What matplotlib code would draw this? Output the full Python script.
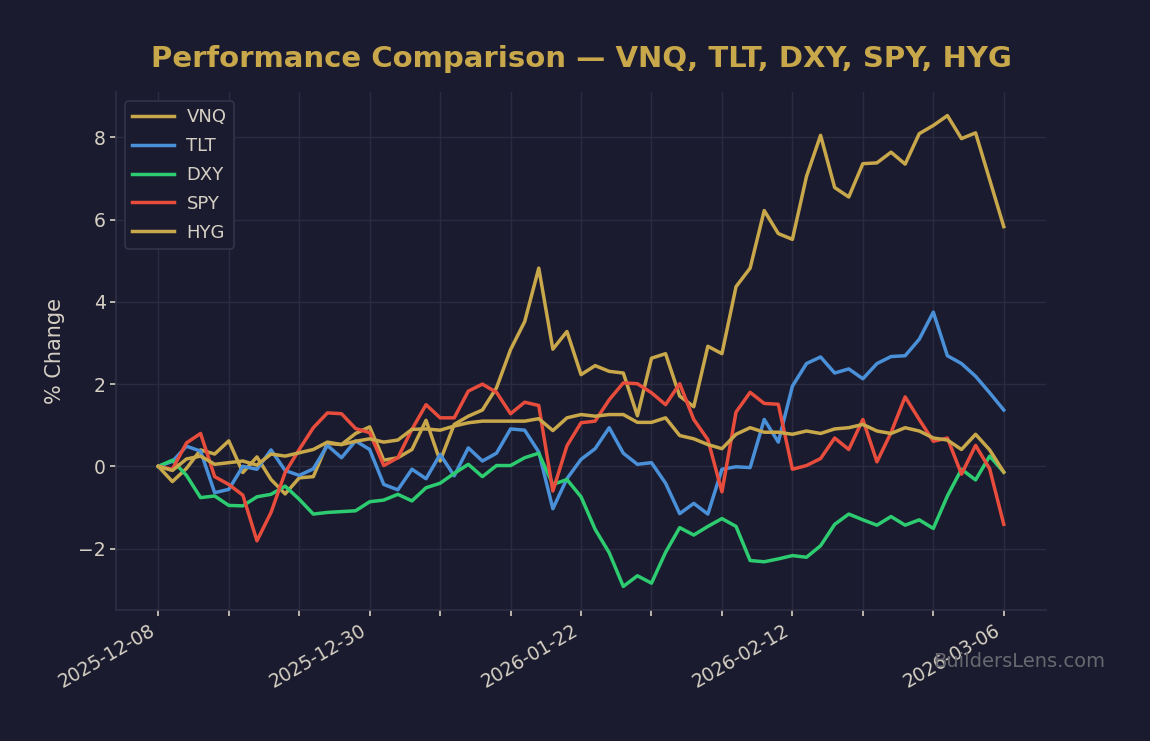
import numpy as np
import pandas as pd
import matplotlib
matplotlib.use("Agg")
import matplotlib.pyplot as plt

# ---- data ----
holidays = ["2025-12-25", "2026-01-01", "2026-01-19", "2026-02-16"]
dates = pd.bdate_range("2025-12-08", "2026-03-06", freq="C", holidays=holidays)

vnq = [0, -0.37, -0.05, 0.40, 0.30, 0.62, -0.15, 0.23, -0.32, -0.67,
       -0.28, -0.25, 0.56, 0.53, 0.80, 0.96, 0.15, 0.21, 0.41, 1.12,
       0.13, 1.02, 1.22, 1.37, 1.91, 2.84, 3.52, 4.82, 2.85, 3.28,
       2.23, 2.45, 2.31, 2.27, 1.23, 2.63, 2.74, 1.71, 1.45, 2.92,
       2.74, 4.37, 4.82, 6.22, 5.66, 5.52, 7.05, 8.05, 6.78, 6.55,
       7.36, 7.38, 7.64, 7.35, 8.09, 8.29, 8.53, 7.97, 8.11, 6.97, 5.83]
tlt = [0, 0.12, 0.49, 0.37, -0.64, -0.56, 0.0, -0.07, 0.40, -0.10,
       -0.22, -0.06, 0.51, 0.21, 0.62, 0.41, -0.44, -0.57, -0.07, -0.30,
       0.29, -0.23, 0.45, 0.13, 0.32, 0.91, 0.88, 0.35, -1.03, -0.30,
       0.17, 0.43, 0.94, 0.32, 0.05, 0.09, -0.41, -1.15, -0.90, -1.16,
       -0.07, -0.01, -0.03, 1.14, 0.59, 1.95, 2.50, 2.66, 2.27, 2.37,
       2.13, 2.50, 2.67, 2.69, 3.09, 3.75, 2.69, 2.50, 2.19, 1.79, 1.37]
dxy = [0, 0.15, -0.22, -0.76, -0.72, -0.95, -0.96, -0.74, -0.68, -0.48,
       -0.80, -1.16, -1.12, -1.10, -1.08, -0.86, -0.82, -0.68, -0.84, -0.52,
       -0.41, -0.17, 0.05, -0.25, 0.02, 0.02, 0.21, 0.32, -0.44, -0.32,
       -0.74, -1.53, -2.10, -2.92, -2.66, -2.84, -2.09, -1.49, -1.67, -1.46,
       -1.27, -1.46, -2.29, -2.32, -2.25, -2.17, -2.21, -1.93, -1.41, -1.16,
       -1.30, -1.43, -1.22, -1.43, -1.30, -1.51, -0.72, -0.07, -0.33, 0.25, -0.14]
spy = [0, -0.07, 0.57, 0.80, -0.25, -0.44, -0.70, -1.81, -1.12, -0.15,
       0.41, 0.94, 1.30, 1.28, 0.92, 0.82, 0.02, 0.21, 0.90, 1.50,
       1.18, 1.18, 1.83, 2.00, 1.80, 1.28, 1.56, 1.48, -0.60, 0.50,
       1.06, 1.10, 1.62, 2.03, 2.01, 1.79, 1.50, 2.01, 1.14, 0.65,
       -0.62, 1.32, 1.80, 1.53, 1.51, -0.07, 0.02, 0.19, 0.69, 0.41,
       1.14, 0.11, 0.82, 1.69, 1.14, 0.61, 0.69, -0.19, 0.51, -0.06, -1.41]
hyg = [0, -0.10, 0.18, 0.25, 0.05, 0.09, 0.13, 0.03, 0.30, 0.25,
       0.33, 0.41, 0.59, 0.53, 0.61, 0.67, 0.59, 0.64, 0.90, 0.91,
       0.88, 0.98, 1.06, 1.10, 1.10, 1.10, 1.10, 1.16, 0.87, 1.18,
       1.26, 1.22, 1.26, 1.26, 1.07, 1.07, 1.18, 0.75, 0.67, 0.53,
       0.43, 0.78, 0.94, 0.83, 0.83, 0.78, 0.86, 0.80, 0.91, 0.94,
       1.02, 0.86, 0.80, 0.94, 0.86, 0.69, 0.64, 0.41, 0.78, 0.40, -0.14]

series_names = ["VNQ", "TLT", "DXY", "SPY", "HYG"]
series_values = [vnq, tlt, dxy, spy, hyg]
series_colors = ["#c9a84c", "#4a90d9", "#2ecc71", "#e74c3c", "#c9a84c"]

# ---- style ----
BG = "#1a1b2e"
GRID = "#2a2b40"
TXT = "#d6d0c4"
GOLD = "#c9a84c"

fig = plt.figure(figsize=(11.5, 7.41), dpi=100, facecolor=BG)
ax = fig.add_axes([0.1009, 0.1768, 0.8087, 0.699])
ax.set_facecolor(BG)

x = np.arange(len(dates))
for name, vals, col in zip(series_names, series_values, series_colors):
    ax.plot(x, vals, color=col, lw=2.5, label=name)

tick_pos = x[::5]
tick_lab = [d.strftime("%Y-%m-%d") if i % 15 == 0 else "" for i, d in zip(tick_pos, dates[::5])]
ax.set_xticks(tick_pos)
ax.set_xticklabels(tick_lab, rotation=30, ha="right")
ax.set_yticks([-2, 0, 2, 4, 6, 8])
ax.set_yticklabels(["\u22122", "0", "2", "4", "6", "8"])

ax.grid(True, color=GRID, lw=1.0)
ax.set_axisbelow(True)
for s in ["top", "right"]:
    ax.spines[s].set_visible(False)
for s in ["left", "bottom"]:
    ax.spines[s].set_color("#2e2f44")
    ax.spines[s].set_linewidth(1.2)
ax.tick_params(colors=TXT, labelsize=13.5, length=4, width=1.2)

ax.set_ylabel("% Change", color=TXT, fontsize=15, labelpad=9)
ax.set_title("Performance Comparison \u2014 VNQ, TLT, DXY, SPY, HYG",
             color=GOLD, fontsize=21, fontweight="bold", pad=18)

leg = ax.legend(loc="upper left", fontsize=13, facecolor=BG, edgecolor="#33344a",
                labelcolor=TXT, framealpha=1.0, handlelength=2.3,
                labelspacing=0.6, handletextpad=0.7)
leg.get_frame().set_linewidth(1.2)

fig.text(0.961, 0.107, "BuildersLens.com", color="#686870", fontsize=14,
         ha="right", va="center")

fig.savefig("out.png", dpi=100, facecolor=BG)
